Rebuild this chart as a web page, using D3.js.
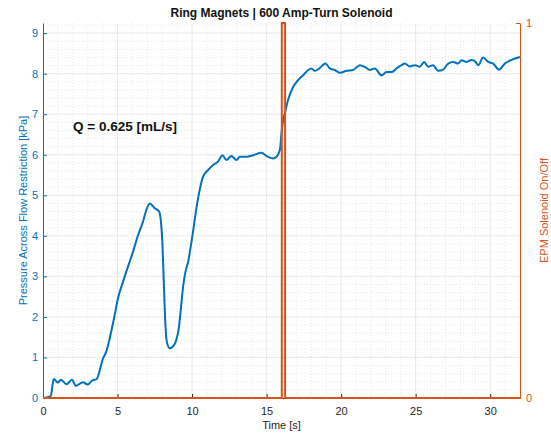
<!DOCTYPE html>
<html>
<head>
<meta charset="utf-8">
<title>Ring Magnets</title>
<script src="https://d3js.org/d3.v7.min.js"></script>
<style>
  body { margin: 0; background: #fff; }
  text { font-family: "Liberation Sans", Arial, Helvetica, sans-serif; }
</style>
</head>
<body>
<div id="chart"></div>
<script>
// pressure trace
var timeS = [0, 0.3, 0.52, 0.72, 1.0, 1.2, 1.57, 1.95, 2.2, 2.68, 3.0, 3.3, 3.6, 4.03, 4.25, 4.48, 4.81, 5.03, 5.37, 5.7, 6.04, 6.38, 6.71, 6.9, 7.16, 7.5, 7.79, 7.9, 8.0, 8.1, 8.2, 8.3, 8.5, 8.72, 8.95, 9.1, 9.25, 9.4, 9.55, 9.73, 10.03, 10.3, 10.52, 10.74, 11.07, 11.41, 11.74, 12.04, 12.3, 12.64, 12.98, 13.2, 13.65, 14.1, 14.66, 14.99, 15.44, 15.66, 15.89, 16.0, 16.11, 16.22, 16.44, 16.78, 17.11, 17.45, 17.79, 18.0, 18.23, 18.5, 18.95, 19.24, 19.58, 19.91, 20.36, 20.8, 21.25, 21.59, 21.93, 22.26, 22.71, 23.05, 23.4, 23.72, 24.05, 24.27, 24.61, 24.95, 25.28, 25.57, 25.84, 26.17, 26.51, 26.85, 27.18, 27.52, 27.85, 28.08, 28.41, 28.75, 29.0, 29.2, 29.53, 29.87, 30.2, 30.58, 30.99, 31.44, 32]
var pressure = [0, 0.02, 0.05, 0.47, 0.38, 0.45, 0.34, 0.45, 0.3, 0.39, 0.33, 0.43, 0.47, 0.98, 1.15, 1.48, 2.05, 2.46, 2.87, 3.24, 3.61, 4.02, 4.35, 4.6, 4.8, 4.68, 4.6, 4.39, 3.9, 2.9, 1.9, 1.4, 1.23, 1.27, 1.44, 1.7, 2.2, 2.75, 3.1, 3.35, 4.02, 4.7, 5.15, 5.46, 5.62, 5.75, 5.83, 5.99, 5.87, 5.97, 5.87, 5.95, 5.95, 5.99, 6.05, 5.97, 5.91, 5.95, 6.12, 6.53, 6.85, 7.02, 7.35, 7.67, 7.84, 7.96, 8.09, 8.13, 8.07, 8.12, 8.25, 8.13, 8.09, 8.02, 8.07, 8.09, 8.21, 8.17, 8.09, 8.13, 7.96, 8.04, 8.04, 8.13, 8.21, 8.25, 8.18, 8.21, 8.17, 8.29, 8.17, 8.21, 8.07, 8.1, 8.25, 8.29, 8.25, 8.33, 8.29, 8.34, 8.3, 8.21, 8.4, 8.29, 8.25, 8.1, 8.25, 8.34, 8.41]

// solenoid on/off pulse
var solenoidT = [0, 16.02, 16.02, 16.24, 16.24, 32]
var solenoidV = [0, 0, 1, 1, 0, 0]

var xTicks = [0, 5, 10, 15, 20, 25, 30]
var yTicks = [0, 1, 2, 3, 4, 5, 6, 7, 8, 9]
var y2Ticks = [0, 1]

var blue = "#0072BD", orange = "#D95319", axisGray = "#262626"

var margin = {top: 23, right: 31, bottom: 37, left: 43},
    W = 551, H = 435,
    width = W - margin.left - margin.right,
    height = H - margin.top - margin.bottom

var svg = d3.select("#chart").append("svg")
    .attr("width", W).attr("height", H)
var g = svg.append("g")
    .attr("transform", "translate(" + margin.left + "," + margin.top + ")")

var x = d3.scaleLinear().domain([0, 32]).range([0, width])
var y = d3.scaleLinear().domain([0, 9.25]).range([height, 0])
var y2 = d3.scaleLinear().domain([0, 1]).range([height, 0])

// minor grid (dotted)
var xMinor = d3.range(1, 32).filter(function (d) { return d % 5 != 0 })
var yMinor = d3.range(0.2, 9.25, 0.2).filter(function (d) { return Math.abs(d - Math.round(d)) > 0.01 })
g.selectAll(".xminor").data(xMinor).enter().append("line")
    .attr("x1", d => x(d)).attr("x2", d => x(d))
    .attr("y1", 0).attr("y2", height)
    .attr("stroke", "#dcdcdc").attr("stroke-width", 0.7).attr("stroke-dasharray", "1,2")
g.selectAll(".yminor").data(yMinor).enter().append("line")
    .attr("x1", 0).attr("x2", width)
    .attr("y1", d => y(d)).attr("y2", d => y(d))
    .attr("stroke", "#dcdcdc").attr("stroke-width", 0.7).attr("stroke-dasharray", "1,2")

// major grid
g.selectAll(".xgrid").data(xTicks.slice(1)).enter().append("line")
    .attr("x1", d => x(d)).attr("x2", d => x(d))
    .attr("y1", 0).attr("y2", height)
    .attr("stroke", "#e3e3e3").attr("stroke-width", 0.8)
g.selectAll(".ygrid").data(yTicks.slice(1)).enter().append("line")
    .attr("x1", 0).attr("x2", width)
    .attr("y1", d => y(d)).attr("y2", d => y(d))
    .attr("stroke", "#e3e3e3").attr("stroke-width", 0.8)

// axes
var xAxis = g.append("g")
    .attr("transform", "translate(0," + height + ")")
    .call(d3.axisBottom(x).tickValues(xTicks).tickSizeInner(-4).tickSizeOuter(0).tickPadding(9))
xAxis.selectAll("path, line").attr("stroke", axisGray)
xAxis.selectAll("text").attr("fill", axisGray).style("font-size", "11px")

var yAxis = g.append("g")
    .call(d3.axisLeft(y).tickValues(yTicks).tickSizeInner(-4).tickSizeOuter(0).tickPadding(5))
yAxis.selectAll("path, line").attr("stroke", blue)
yAxis.selectAll("text").attr("fill", blue).style("font-size", "11px")

var y2Axis = g.append("g")
    .attr("transform", "translate(" + width + ",0)")
    .call(d3.axisRight(y2).tickValues(y2Ticks).tickFormat(d3.format("d"))
        .tickSizeInner(-4).tickSizeOuter(0).tickPadding(6))
y2Axis.selectAll("path, line").attr("stroke", orange)
y2Axis.selectAll("text").attr("fill", orange).style("font-size", "11px")

// series
var pLine = d3.line().curve(d3.curveMonotoneX)
    .x((d, i) => x(timeS[i])).y(d => y(d))
g.append("path").datum(pressure)
    .attr("d", pLine)
    .attr("fill", "none").attr("stroke", blue).attr("stroke-width", 2)
    .attr("stroke-linejoin", "round")

var sLine = d3.line().x((d, i) => x(solenoidT[i])).y(d => y2(d))
g.append("path").datum(solenoidV)
    .attr("d", sLine)
    .attr("fill", "none").attr("stroke", orange).attr("stroke-width", 2)

// text
svg.append("text")
    .attr("x", margin.left + width / 2).attr("y", 17)
    .attr("text-anchor", "middle")
    .style("font-size", "12px").style("font-weight", "bold").attr("fill", "#111")
    .text("Ring Magnets | 600 Amp-Turn Solenoid")

svg.append("text")
    .attr("x", 73).attr("y", 131)
    .style("font-size", "13.5px").style("font-weight", "bold").attr("fill", "#111")
    .text("Q = 0.625 [mL/s]")

svg.append("text")
    .attr("x", margin.left + width / 2).attr("y", 429)
    .attr("text-anchor", "middle")
    .style("font-size", "11px").attr("fill", axisGray)
    .text("Time [s]")

svg.append("text")
    .attr("transform", "translate(27," + (margin.top + height / 2) + ") rotate(-90)")
    .attr("text-anchor", "middle")
    .style("font-size", "11px").attr("fill", blue)
    .text("Pressure Across Flow Restriction [kPa]")

svg.append("text")
    .attr("transform", "translate(548," + (margin.top + height / 2) + ") rotate(-90)")
    .attr("text-anchor", "middle")
    .style("font-size", "11px").attr("fill", orange)
    .text("EPM Solenoid On/Off")
</script>
</body>
</html>
